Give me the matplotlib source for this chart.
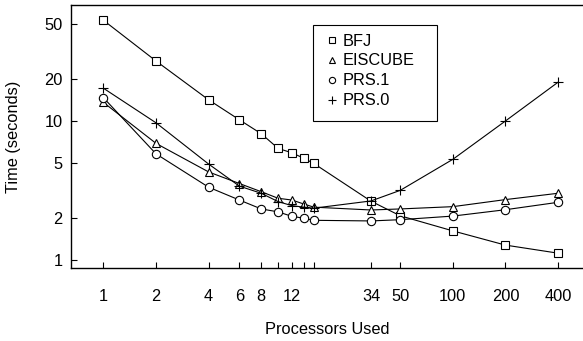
import matplotlib
matplotlib.use("Agg")
import matplotlib.pyplot as plt
from matplotlib.patches import Rectangle
from matplotlib.ticker import FixedLocator, NullFormatter, NullLocator

plt.rcParams["font.family"] = ["Liberation Sans", "DejaVu Sans"]

# Data (log-log)
procs = [1, 2, 4, 6, 8, 10, 12, 14, 16, 34, 50, 100, 200, 400]
bfj = [53, 27, 14.2, 10.2, 8.1, 6.35, 5.9, 5.4, 4.95, 2.65, 2.08, 1.62, 1.28, 1.12]
eiscube = [13.6, 6.9, 4.3, 3.55, 3.1, 2.78, 2.7, 2.53, 2.4, 2.29, 2.33, 2.42, 2.72, 3.02]
prs1 = [14.7, 5.8, 3.34, 2.7, 2.33, 2.22, 2.06, 2.0, 1.93, 1.91, 1.95, 2.07, 2.3, 2.6]
prs0 = [17.2, 9.7, 4.9, 3.4, 3.02, 2.63, 2.46, 2.4, 2.36, 2.66, 3.17, 5.3, 10.0, 19.0]

x_tick_pos = [1, 2, 4, 6, 8, 10, 12, 14, 16, 34, 50, 100, 200, 400]
x_label_pos = [1, 2, 4, 6, 8, 12, 34, 50, 100, 200, 400]
y_ticks = [1, 2, 5, 10, 20, 50]

W, H = 583, 341
fs = 11.8

fig = plt.figure(figsize=(W / 100, H / 100), dpi=100)
ax = fig.add_axes([71 / W, 1 - 268 / H, 1 - 71 / W, (268 - 5) / H])

style = dict(color="black", linewidth=0.8, markerfacecolor="white",
             markeredgecolor="black", markeredgewidth=0.8)
ax.plot(procs, bfj, marker="s", markersize=5.5, label="BFJ", **style)
ax.plot(procs, eiscube, marker="^", markersize=6, label="EISCUBE", **style)
ax.plot(procs, prs1, marker="o", markersize=6, label="PRS.1", **style)
ax.plot(procs, prs0, marker="+", markersize=7, label="PRS.0", **style)

ax.set_xscale("log")
ax.set_yscale("log")
ax.set_xlim(0.652, 556)
ax.set_ylim(0.876, 68.3)

ax.xaxis.set_major_locator(FixedLocator(x_tick_pos))
ax.xaxis.set_minor_locator(NullLocator())
ax.set_xticklabels([str(p) if p in x_label_pos else "" for p in x_tick_pos])
ax.yaxis.set_major_locator(FixedLocator(y_ticks))
ax.yaxis.set_minor_locator(NullLocator())
ax.yaxis.set_minor_formatter(NullFormatter())
ax.set_yticklabels([str(v) for v in y_ticks])

ax.tick_params(direction="in", length=4, width=0.8, labelsize=fs)
ax.tick_params(axis="x", pad=15)
ax.tick_params(axis="y", pad=6)

ax.spines["right"].set_visible(False)
for s in ["left", "top", "bottom"]:
    ax.spines[s].set_linewidth(1.0)

ax.set_xlabel("Processors Used", fontsize=fs, labelpad=13)
ax.set_ylabel("Time (seconds)", fontsize=fs, labelpad=17)

# legend without frame, box drawn separately to match the reference size
leg = ax.legend(loc="upper left",
                bbox_to_anchor=(325 / W, 1 - 33.5 / H),
                bbox_transform=fig.transFigure,
                fontsize=fs, frameon=False,
                handlelength=0.8, handletextpad=0.3, labelspacing=0.3,
                borderpad=0, markerscale=0.75, borderaxespad=0)
for line in leg.get_lines():
    line.set_linestyle("none")

fig.patches.append(Rectangle((313 / W, 1 - 121 / H), (437 - 313) / W, (121 - 25) / H,
                             transform=fig.transFigure, fill=False,
                             edgecolor="black", linewidth=0.8))

fig.savefig("out.png", dpi=100)
